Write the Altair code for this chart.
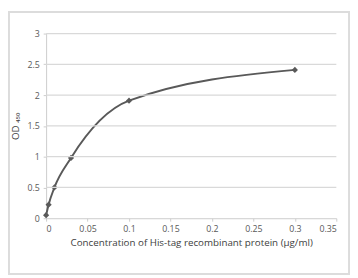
import altair as alt
import pandas as pd

conc = [0.0, 0.003, 0.01, 0.03, 0.1, 0.3]
od = [0.05, 0.22, 0.5, 0.98, 1.91, 2.41]
y_ticks = [0, 0.5, 1, 1.5, 2, 2.5, 3]
x_ticks = [0, 0.05, 0.1, 0.15, 0.2, 0.25, 0.3, 0.35]

df = pd.DataFrame({"conc": conc, "od": od})
grid_df = pd.DataFrame({"gy": y_ticks[1:]})

W, H = 297, 189
PL, PT, PR, PB = 39, 23, 14, 58

FONT = "Open Sans"
GRAY = "#595959"

xs = alt.Scale(domain=[0, 0.35], nice=False)
ys = alt.Scale(domain=[0, 3], nice=False)

yaxis = alt.Axis(values=y_ticks, format="~g", grid=False,
                 title="OD ₄₅₀", titlePadding=7)

x = alt.X("conc:Q", scale=xs,
          axis=alt.Axis(values=x_ticks, format="~g", grid=False,
                        title="Concentration of  His-tag recombinant protein (µg/ml)",
                        titlePadding=4))
y = alt.Y("od:Q", scale=ys, axis=yaxis)

grid = alt.Chart(grid_df).mark_rule(color="#d9d9d9", strokeWidth=1.2).encode(
    y=alt.Y("gy:Q", scale=ys, axis=yaxis),
    x=alt.value(0), x2=alt.value(W),
)

base = alt.Chart(df)
line = base.mark_line(interpolate="monotone", color=GRAY, strokeWidth=2).encode(x=x, y=y)
pts = base.mark_point(shape="diamond", filled=True, size=40, color=GRAY, opacity=1).encode(x=x, y=y)

frame = alt.Chart(pd.DataFrame({"a": [0]})).mark_rect(
    filled=False, stroke="#dcdcdc", strokeWidth=2
).encode(
    x=alt.value(-PL + 1), x2=alt.value(W + PR - 1),
    y=alt.value(-PT + 1), y2=alt.value(H + PB - 1),
)

chart = alt.layer(line, pts, grid, frame).resolve_axis(y="shared").properties(
    width=W, height=H,
    autosize=alt.AutoSizeParams(type="none"),
    padding={"left": PL, "top": PT, "right": PR, "bottom": PB},
).configure_view(stroke=None).configure_axis(
    labelFont=FONT, titleFont=FONT, labelColor=GRAY, titleColor="#404040",
    labelFontSize=9, titleFontSize=10, titleFontWeight="normal",
    domainColor="#cccccc", tickColor="#cccccc", tickSize=3,
    labelPadding=4,
)

chart.save("out.html", embed_options={"renderer": "svg", "actions": False})
